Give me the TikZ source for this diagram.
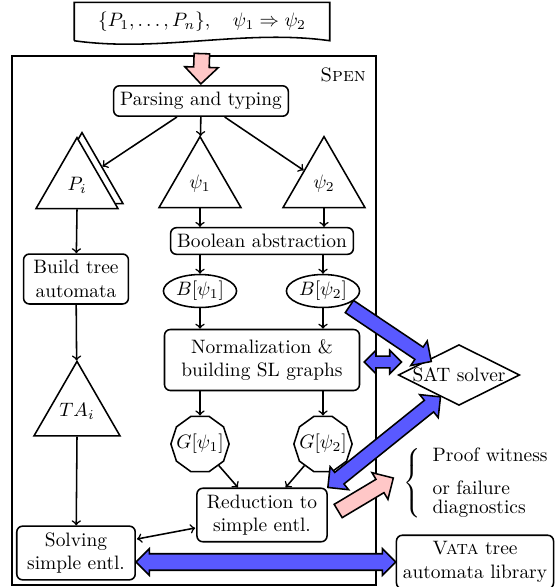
\documentclass[tikz,border=0pt]{standalone}
\usetikzlibrary{shapes.geometric,shapes.arrows,calc,positioning}
\tikzset{
  stage/.style={draw, rounded corners=3pt, align=center},
  tree/.style={draw, regular polygon, regular polygon sides=3, minimum size=48.8pt, inner sep=0pt, fill=white},
  formula/.style={draw, ellipse, inner sep=1pt},
  graphnode/.style={draw, regular polygon, regular polygon sides=10, minimum size=30pt, inner sep=0pt},
  solver/.style={draw, diamond, aspect=2, inner sep=0pt},
  bluearrow/.style={single arrow, draw, fill=blue!65, inner xsep=0pt, inner ysep=3.4pt, single arrow head extend=3.8pt},
  bluedouble/.style={double arrow, draw, fill=blue!65, inner xsep=0pt, inner ysep=3.4pt, double arrow head extend=3.8pt},
  pinkarrow/.style={single arrow, draw, fill=red!22, inner xsep=0pt, inner ysep=3.6pt, single arrow head extend=4pt}
}
% block arrow between two points: style, from, to
\newcommand{\blockarrow}[3]{%
  \path let \p1=($#3-#2$), \n1={atan2(\y1,\x1)}, \n2={veclen(\x1,\y1)} in
    node[#1, minimum height=\n2, rotate=\n1] at ($#2!0.5!#3$) {};}
\begin{document}
\begin{tikzpicture}[x=0.515pt, y=-0.515pt, >=to, thick]
\useasboundingbox (0,0) rectangle (555,587);
% input and tool frame
\node[minimum width=130.8pt, minimum height=19pt] (input) at (202,21.5) {$\{P_1,\ldots,P_n\},\quad \psi_1\Rightarrow\psi_2$};
\draw (input.south west) -- (input.north west) -- (input.north east) -- (input.south east)
  .. controls +(-85,-12) and +(85,12) .. (input.south west);
\draw (12,56) rectangle (376,585);
\node[anchor=east] (spen) at (373,75) {\textsc{Spen}};
% pipeline
\node[stage] (parse) at (201,101) {Parsing and typing};
\node[tree] (pishadow) at (82,180) {};
\node[tree] (pi) at (77,185) {$P_i$};
\node[tree] (phi1) at (200,184) {$\psi_1$};
\node[tree] (phi2) at (324,184) {$\psi_2$};
\node[stage] (bool) at (262,241) {Boolean abstraction};
\node[stage, minimum width=54pt] (build) at (76,279) {Build tree\\automata};
\node[formula] (b1) at (200,291) {$B[\psi_1]$};
\node[formula] (b2) at (323,291) {$B[\psi_2]$};
\node[stage, minimum width=100.4pt, minimum height=31.4pt] (norm) at (262,360) {Normalization \&\\building SL graphs};
\node[tree] (ta) at (77,411) {$TA_i$};
\node[graphnode] (g1) at (200,444) {\makebox[0pt]{$G[\psi_1]$}};
\node[graphnode] (g2) at (323,444) {\makebox[0pt]{$G[\psi_2]$}};
\node[stage, minimum width=67pt] (red) at (262,515) {Reduction to\\simple entl.};
\node[stage, minimum width=61pt] (solve) at (76,553) {Solving\\simple entl.};
% outside the tool
\node[solver] (sat) at (459,375) {SAT solver};
\node[stage] (vata) at (475,562) {\textsc{Vata} tree\\automata library};
\node[anchor=west, inner sep=0pt] (proof) at (403,483) {$\left\{\begin{tabular}{l}Proof witness\\[5pt]or failure\\[-2.2pt]diagnostics\end{tabular}\right.$};
% flow
\draw[->] (parse) -- (pishadow);
\draw[->] (parse) -- (phi1);
\draw[->] (parse) -- (phi2);
\draw[->] (pi.south) -- (build);
\draw[->] (phi1.south) -- (phi1.south |- bool.north);
\draw[->] (phi2.south) -- (phi2.south |- bool.north);
\draw[->] (b1 |- bool.south) -- (b1);
\draw[->] (b2 |- bool.south) -- (b2);
\draw[->] (b1) -- (b1 |- norm.north);
\draw[->] (b2) -- (b2 |- norm.north);
\draw[->] (g1 |- norm.south) -- (g1);
\draw[->] (g2 |- norm.south) -- (g2);
\draw[->] (build) -- (ta);
\draw[->] (ta.south) -- (solve);
\draw[->] (g1) -- (red);
\draw[->] (g2) -- (red);
\draw[<->] ($(solve.east)+(1,-14)$) -- ($(red.west)+(-1,13)$);
% block arrows
\coordinate (inbot) at ($(input.south)+(0,9)$);
\coordinate (parsetop) at ($(parse.north)+(0,-5)$);
\coordinate (normR) at ($(norm.east)+(4,2)$);
\coordinate (satL) at ($(sat.west)+(4,-13)$);
\coordinate (satlow) at ($(sat.west)!0.7!(sat.south)$);
\coordinate (redR) at ($(red.east)+(7,-2)$);
\coordinate (proofL) at ($(proof.west)+(-13,-3)$);
\blockarrow{pinkarrow, single arrow head extend=4.6pt}{(inbot)}{(parsetop)}
\blockarrow{bluearrow}{(b2.-30)}{(sat.north west)}
\blockarrow{bluedouble, inner ysep=2.6pt, double arrow head extend=3pt}{(normR)}{(satL)}
\blockarrow{bluedouble}{(red.north east)}{(satlow)}
\blockarrow{pinkarrow}{(redR)}{(proofL)}
\blockarrow{bluedouble, inner ysep=3.85pt, double arrow head extend=2.6pt}{(solve.east |- vata.west)}{(vata.west)}
\end{tikzpicture}
\end{document}
